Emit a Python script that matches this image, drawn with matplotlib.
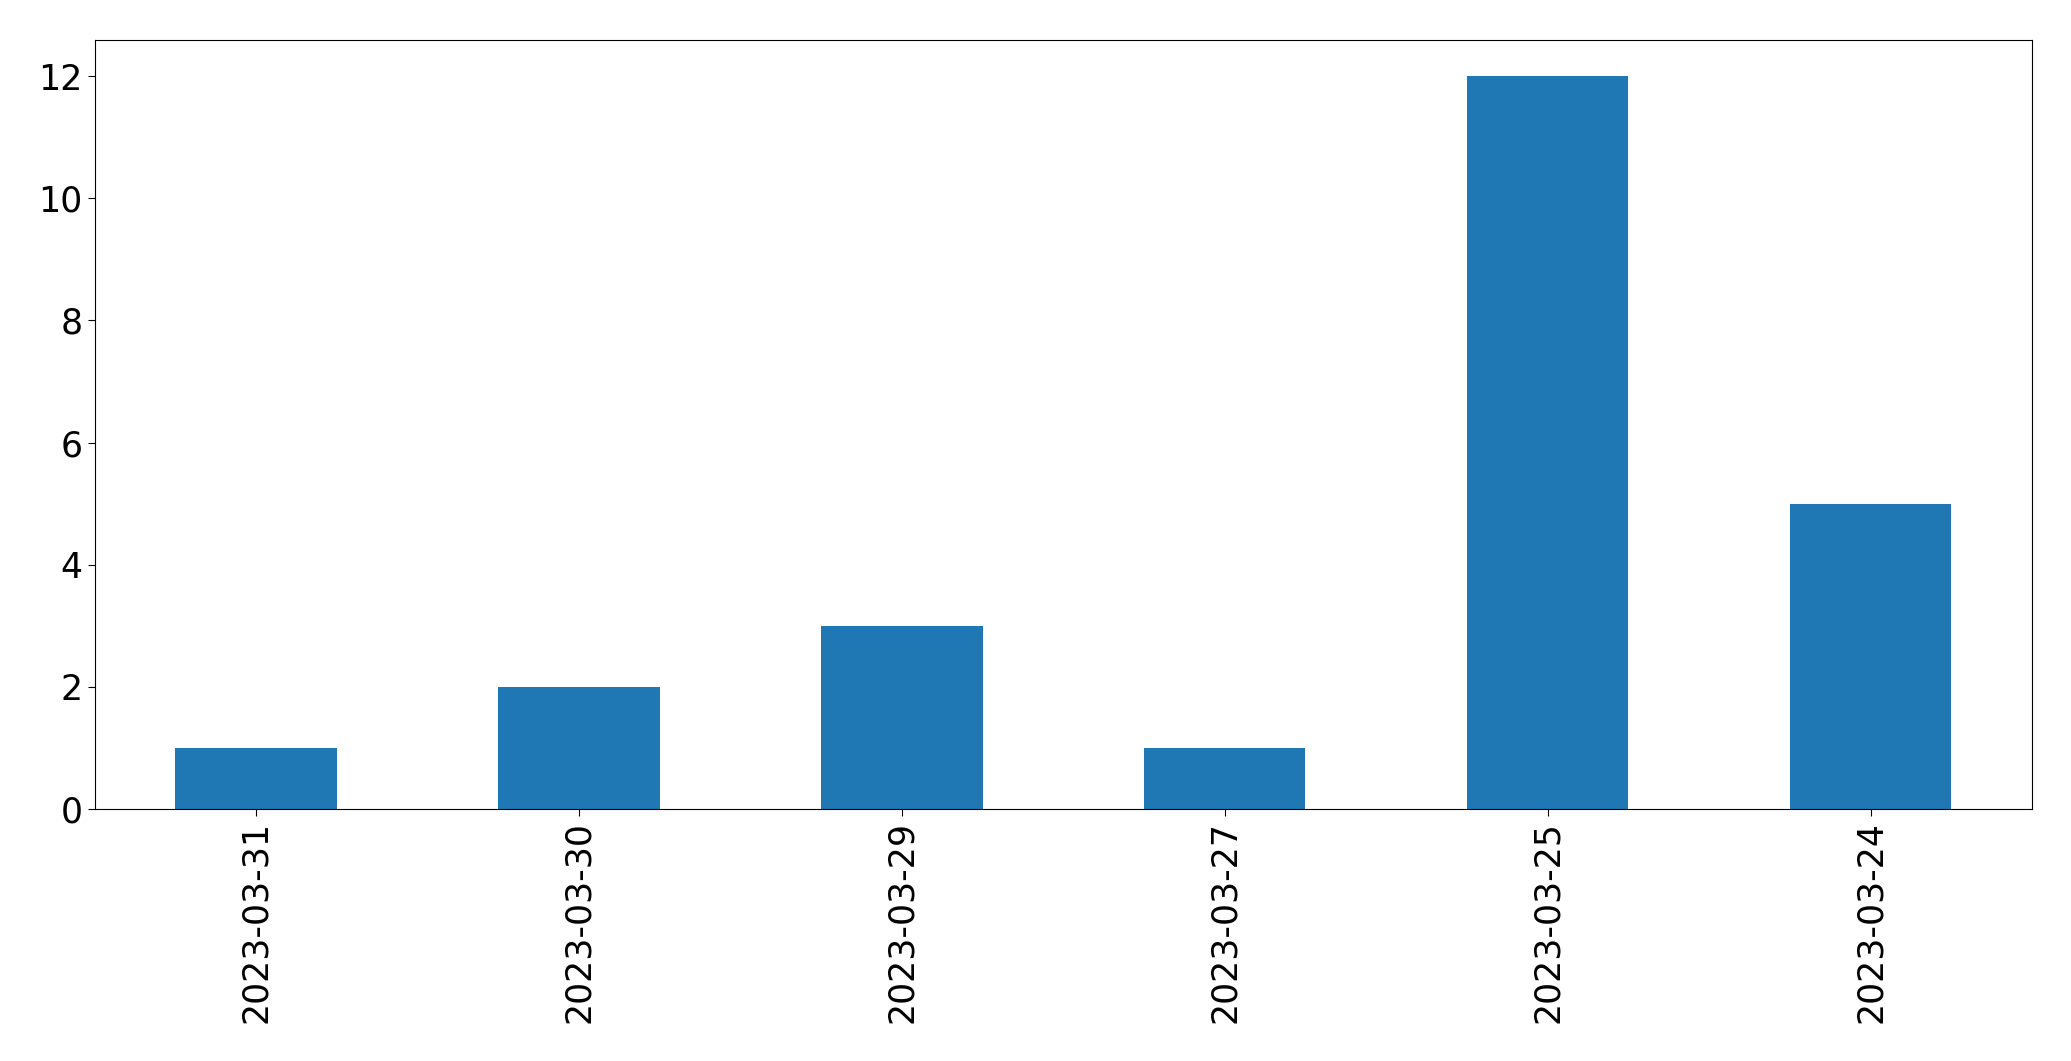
import matplotlib
matplotlib.use("Agg")
import matplotlib.pyplot as plt

dates = ["2023-03-31", "2023-03-30", "2023-03-29", "2023-03-27", "2023-03-25", "2023-03-24"]
counts = [1, 2, 3, 1, 12, 5]

fig = plt.figure(figsize=(20.71, 10.61), dpi=100)
ax = fig.add_axes([94.5/2071, 1 - 809/1061, (2032-94.5)/2071, (809-39.5)/1061])
x = range(len(dates))
ax.bar(x, counts, width=0.5, color="#1f77b4")
ax.set_xticks(list(x))
ax.set_xticklabels(dates, rotation=90)
ax.set_xlim(-0.5, len(dates) - 0.5)
ax.set_ylim(0, 12.6)
ax.tick_params(labelsize=25, length=5.3)
fig.savefig("out.png", dpi=100)
